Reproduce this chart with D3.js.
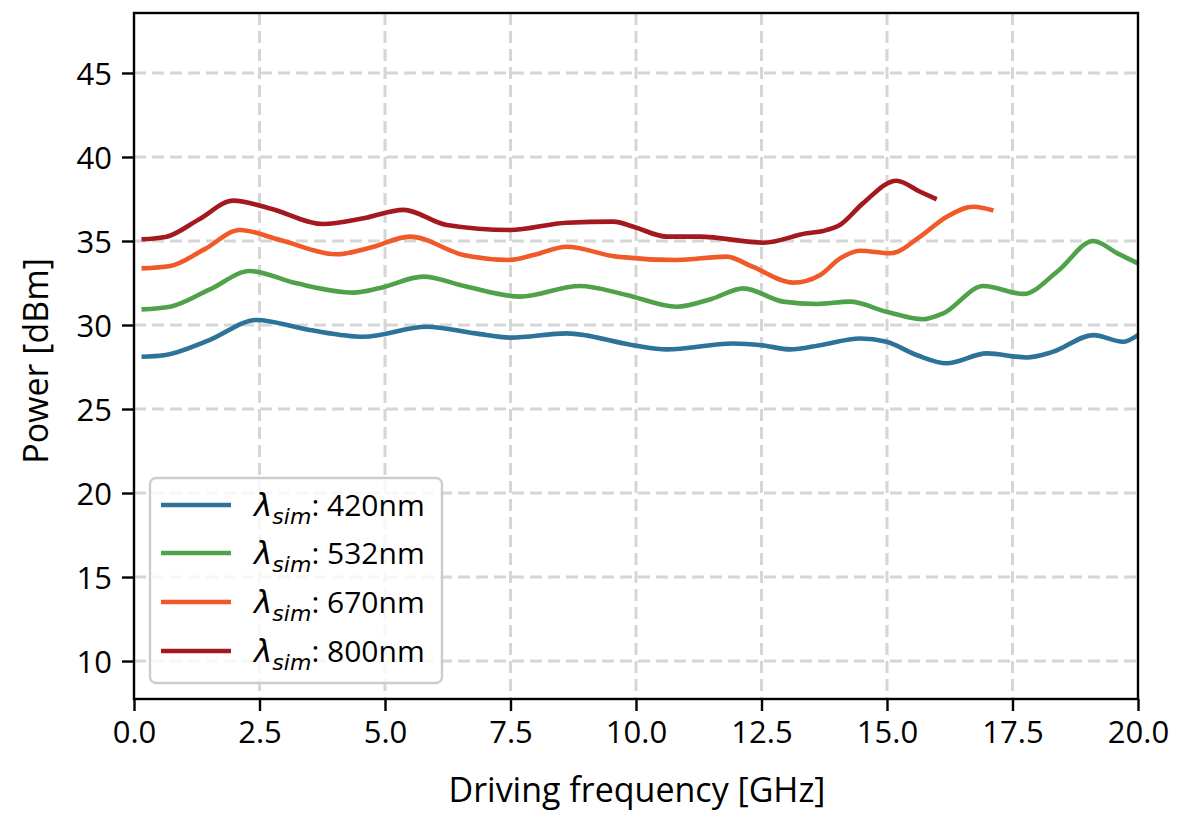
<!DOCTYPE html>
<html><head><meta charset="utf-8">
<script src="https://cdn.jsdelivr.net/npm/d3@7"></script>
<style>
html,body{margin:0;padding:0;background:#fff;}
svg{display:block;}
</style></head>
<body>
<svg id="chart" width="1178" height="820"></svg>
<script>
// ---- data ----
const xTicks = [0, 2.5, 5, 7.5, 10, 12.5, 15, 17.5, 20];
const yTicks = [10, 15, 20, 25, 30, 35, 40, 45];
const seriesNames = ["420nm", "532nm", "670nm", "800nm"];
const seriesColors = ["#2c7299", "#4fa24a", "#f05a28", "#a3191d"];

const f420 = [0.15,0.6,1.5,2.44,3.5,4.57,5.83,6.8,7.5,8.62,9.94,10.61,11.93,12.5,13.07,13.67,14.46,14.99,15.6,16.19,16.99,17.78,18.3,19.11,19.7,20.0];
const p420 = [28.11,28.2,29.1,30.3,29.7,29.3,29.9,29.5,29.25,29.5,28.8,28.55,28.9,28.8,28.55,28.8,29.2,29.0,28.2,27.72,28.31,28.07,28.4,29.4,29.0,29.4];

const f532 = [0.15,0.72,1.5,2.31,3.24,4.37,4.9,5.76,6.6,7.69,8.88,9.81,10.81,11.5,12.14,12.93,13.6,14.26,14.99,15.72,16.12,16.92,17.72,18.4,19.11,19.6,20.0];
const p532 = [30.93,31.09,32.1,33.21,32.48,31.93,32.2,32.88,32.3,31.69,32.32,31.79,31.09,31.55,32.18,31.39,31.25,31.39,30.79,30.34,30.69,32.32,31.85,33.2,35.0,34.25,33.67];

const f670 = [0.15,0.72,1.4,2.11,2.91,4.04,4.7,5.5,6.56,7.49,8.0,8.62,9.61,10.81,11.8,12.32,13.13,13.67,14.06,14.46,15.07,15.66,16.19,16.72,17.12];
const p670 = [33.37,33.51,34.5,35.65,35.06,34.21,34.6,35.26,34.17,33.87,34.2,34.66,34.07,33.87,34.07,33.47,32.52,32.98,33.95,34.42,34.27,35.26,36.45,37.04,36.81];

const f800 = [0.15,0.65,1.3,1.98,2.71,3.77,4.57,5.37,6.23,7.49,8.62,9.55,9.95,10.61,11.27,12.54,13.4,13.73,14.06,14.52,15.19,15.66,15.99];
const p800 = [35.1,35.26,36.3,37.4,36.94,36.01,36.35,36.85,35.95,35.65,36.09,36.15,35.85,35.26,35.26,34.9,35.46,35.6,35.95,37.24,38.59,37.93,37.48];

const xLabel = "Driving frequency [GHz]";
const yLabel = "Power [dBm]";

// ---- layout ----
const W = 1178, H = 820;
const m = {left:134, top:13, right:40, bottom:121};
const iw = W - m.left - m.right, ih = H - m.top - m.bottom;

const svg = d3.select("#chart");
const x = d3.scaleLinear().domain([0, 20]).range([0, iw]);
const y = d3.scaleLinear().domain([7.74, 48.57]).range([ih, 0]);

const g = svg.append("g").attr("transform", `translate(${m.left},${m.top})`);

svg.append("defs").append("clipPath").attr("id","clip")
  .append("rect").attr("x",0).attr("y",0).attr("width",iw).attr("height",ih);

// grid
const gridStyle = sel => sel.attr("stroke","#d6d6d6").attr("stroke-width",3).attr("stroke-dasharray","12,6");
g.append("g").selectAll("line").data(xTicks.slice(1,-1)).join("line")
  .attr("x1",d=>x(d)).attr("x2",d=>x(d)).attr("y1",0).attr("y2",ih).call(gridStyle);
g.append("g").selectAll("line").data(yTicks).join("line")
  .attr("x1",0).attr("x2",iw).attr("y1",d=>y(d)).attr("y2",d=>y(d)).call(gridStyle);

// series
const all = [[f420,p420],[f532,p532],[f670,p670],[f800,p800]];
const line = d3.line().x(d=>x(d[0])).y(d=>y(d[1])).curve(d3.curveMonotoneX);
const lg = g.append("g").attr("clip-path","url(#clip)");
all.forEach((s,i)=>{
  const pts = s[0].map((fv,k)=>[fv, s[1][k]]);
  lg.append("path").datum(pts).attr("d", line)
    .attr("fill","none").attr("stroke", seriesColors[i]).attr("stroke-width",4.6)
    .attr("stroke-linecap","butt").attr("stroke-linejoin","round");
});

// axes
const font = "'Open Sans', 'DejaVu Sans', sans-serif";
const xAxis = d3.axisBottom(x).tickValues(xTicks).tickFormat(d3.format(".1f")).tickSize(12).tickPadding(10);
const yAxis = d3.axisLeft(y).tickValues(yTicks).tickFormat(d3.format("d")).tickSize(12).tickPadding(10);
const gx = g.append("g").attr("transform",`translate(0,${ih})`).call(xAxis);
const gy = g.append("g").call(yAxis);
[gx,gy].forEach(a=>{
  a.select(".domain").remove();
  a.selectAll(".tick line").attr("stroke","#000").attr("stroke-width",2.4);
  a.selectAll(".tick text").attr("fill","#000").style("font-family",font).style("font-size","31px");
});
gy.selectAll(".tick text").attr("dy","0.36em");

// frame
g.append("rect").attr("x",0).attr("y",0).attr("width",iw).attr("height",ih)
  .attr("fill","none").attr("stroke","#000").attr("stroke-width",2.4);

// labels
svg.append("text").attr("x", 637).attr("y", 802).attr("text-anchor","middle")
  .style("font-family",font).style("font-size","34px").text(xLabel);
svg.append("text").attr("transform",`translate(48,361) rotate(-90)`).attr("text-anchor","middle")
  .style("font-family",font).style("font-size","34px").text(yLabel);

// legend
const leg = svg.append("g");
leg.append("rect").attr("x",150).attr("y",478).attr("width",292).attr("height",205)
  .attr("rx",6).attr("fill","rgba(255,255,255,0.8)").attr("stroke","#cccccc").attr("stroke-width",2.4);
const rowY = [505, 553, 602, 651];
seriesNames.forEach((nm,i)=>{
  leg.append("line").attr("x1",161).attr("x2",231).attr("y1",rowY[i]).attr("y2",rowY[i])
    .attr("stroke",seriesColors[i]).attr("stroke-width",4.6);
  const t = leg.append("text").attr("x",254).attr("y",rowY[i]+11).style("font-family",font).style("font-size","30px");
  t.append("tspan").style("font-family","'DejaVu Sans', sans-serif").style("font-style","italic").style("font-size","31px").text("λ");
  t.append("tspan").attr("dy",8).style("font-family","'DejaVu Sans', sans-serif").style("font-style","italic").style("font-size","22px").text("sim");
  t.append("tspan").attr("dy",-8).text(": " + nm);
});
</script>
</body></html>
